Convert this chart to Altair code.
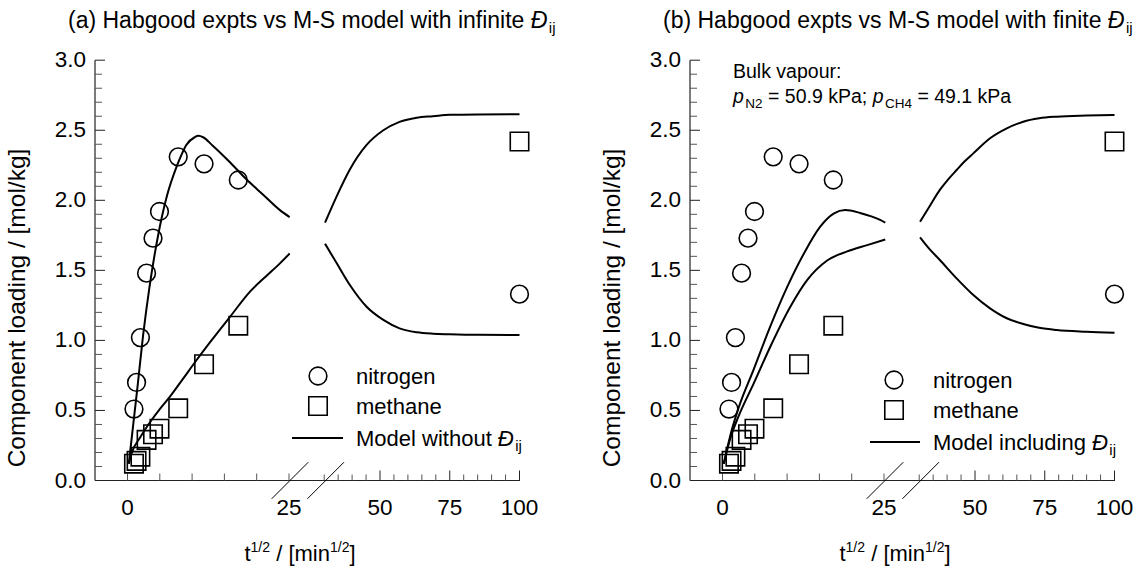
import altair as alt
import pandas as pd

FONT = "Liberation Sans"

# ---- Habgood experiments: x = t^(1/2) [min^(1/2)], q = loading [mol/kg] ----
n2_t = [1.0, 1.4, 2.0, 2.95, 3.95, 4.95, 7.85, 11.85, 17.15, 100.0]
n2_q = [0.51, 0.70, 1.02, 1.48, 1.73, 1.92, 2.31, 2.26, 2.145, 1.33]
ch4_t = [1.0, 1.4, 2.0, 2.95, 3.95, 4.95, 7.85, 11.85, 17.15, 100.0]
ch4_q = [0.12, 0.14, 0.17, 0.29, 0.33, 0.37, 0.515, 0.83, 1.105, 2.42]

# ---- M-S model, infinite D_ij (panel a) ----
a_n2_t1 = [0.2, 1.6, 2.4, 3.4, 4.7, 6.1, 7.6, 8.4, 9.1, 10.4, 11.0, 11.7, 13.2, 15.9, 18.4, 21.0, 23.6, 25.1]
a_n2_q1 = [0.12, 0.69, 1.03, 1.38, 1.74, 2.03, 2.24, 2.33, 2.395, 2.45, 2.46, 2.45, 2.39, 2.27, 2.15, 2.04, 1.93, 1.88]
a_ch4_t1 = [0.2, 0.6, 2.0, 3.7, 5.0, 6.6, 8.5, 10.7, 13.0, 15.9, 19.0, 21.5, 23.6, 25.1]
a_ch4_q1 = [0.12, 0.19, 0.31, 0.43, 0.51, 0.60, 0.72, 0.86, 1.00, 1.17, 1.35, 1.46, 1.55, 1.62]
a_t2 = [30.3, 34.5, 39.2, 45.2, 51.2, 57.0, 63.2, 69.0, 75.0, 85.0, 100.0]
a_ch4_q2 = [1.84, 2.03, 2.22, 2.395, 2.50, 2.56, 2.59, 2.60, 2.61, 2.613, 2.614]
a_n2_q2 = [1.69, 1.55, 1.395, 1.24, 1.146, 1.086, 1.058, 1.048, 1.044, 1.04, 1.039]

# ---- M-S model, finite D_ij (panel b) ----
b_n2_t1 = [0.2, 1.2, 2.5, 4.8, 7.4, 10.0, 12.6, 15.1, 17.2, 19.0, 21.3, 24.4, 25.2]
b_n2_q1 = [0.12, 0.32, 0.52, 0.79, 1.10, 1.38, 1.62, 1.81, 1.905, 1.93, 1.91, 1.86, 1.84]
b_ch4_t1 = [0.2, 1.2, 2.5, 4.8, 7.4, 10.5, 13.1, 16.2, 19.3, 22.4, 25.2]
b_ch4_q1 = [0.12, 0.30, 0.46, 0.69, 0.955, 1.24, 1.43, 1.57, 1.635, 1.68, 1.72]
b_ch4_t2 = [30.3, 33.8, 37.4, 40.4, 43.4, 46.4, 49.4, 55.4, 61.4, 67.3, 73.0, 79.3, 90.0, 100.0]
b_ch4_q2 = [1.847, 1.96, 2.074, 2.15, 2.216, 2.28, 2.335, 2.443, 2.514, 2.561, 2.585, 2.597, 2.605, 2.609]
b_n2_t2 = [30.3, 33.8, 37.4, 43.4, 49.4, 55.4, 61.4, 67.3, 73.0, 79.3, 90.0, 100.0]
b_n2_q2 = [1.736, 1.65, 1.574, 1.443, 1.324, 1.229, 1.158, 1.117, 1.09, 1.074, 1.062, 1.055]

# ---- axis ticks and labels ----
y_labels = [0.0, 0.5, 1.0, 1.5, 2.0, 2.5, 3.0]
y_minor = [i / 10 for i in range(31) if i % 5]
x_early_ticks = [0, 5, 10, 15, 20, 25]
x_early_labels = [0, 25]
x_late_minor = [30, 35, 40, 45, 55, 60, 65, 70, 80, 85, 90, 95]
x_late_labels = [50, 75, 100]

# Helvetica/Arial advance widths (1/1000 em) used to place rich-text runs
ADV = {" ": 278, "(": 333, ")": 333, "-": 333, "/": 278, "[": 278, "]": 278, ".": 278,
       ";": 278, ":": 278, "=": 584, "Đ": 722}
for ch in "abdeghnopqu": ADV[ch] = 556
for ch in "ckvsxyz": ADV[ch] = 500
for ch in "ijl": ADV[ch] = 222
for ch in "ft": ADV[ch] = 278
ADV.update({"r": 333, "m": 833, "w": 722, "H": 722, "M": 833, "S": 667, "C": 722,
            "N": 722, "P": 667, "B": 667})
for ch in "0123456789": ADV[ch] = 556


def text_w(s, size):
    return sum(ADV.get(c, 556) for c in s) * size / 1000.0


ONE = pd.DataFrame({"v": [0]})


def rich(parts, x, y, center=False):
    """parts: (text, size, italic, baseline shift). Returns text layers."""
    total = sum(text_w(p[0], p[1]) + (1.5 if p[2] else 0) for p in parts)
    cur = x - total / 2 if center else x
    out = []
    for text, size, italic, shift in parts:
        body = text.strip(" ")
        lead = len(text) - len(text.lstrip(" "))
        start = cur + text_w(" " * lead, size)
        out.append(
            alt.Chart(ONE).mark_text(
                text=body, font=FONT, fontSize=size, color="black",
                fontStyle="italic" if italic else "normal",
                align="left", baseline="alphabetic",
            ).encode(x=alt.value(start), y=alt.value(y + shift))
        )
        cur += text_w(text, size) + (1.5 if italic else 0)
    return out


Y_SCALE = alt.Scale(domain=[0, 3], range=[480.5, 60.2], nice=False, zero=False)
Y_BASE = 480.5


def seg_scale(seg, x0):
    if seg == "early":
        return alt.Scale(domain=[0, 25], range=[x0 + 32.5, x0 + 194], nice=False, zero=False)
    return alt.Scale(domain=[50, 100], range=[x0 + 285, x0 + 424.5], nice=False, zero=False)


def enc(seg, x0, xf="t", yf="q"):
    return dict(
        x=alt.X(f"{xf}:Q", scale=seg_scale(seg, x0), axis=None),
        y=alt.Y(f"{yf}:Q", scale=Y_SCALE, axis=None),
    )


def curve(ts, qs, seg, x0):
    df = pd.DataFrame({"t": ts, "q": qs})
    return alt.Chart(df).mark_line(
        color="black", strokeWidth=2, interpolate="monotone"
    ).encode(**enc(seg, x0), order="t:Q")


def markers(ts, qs, shape, size, x0):
    out = []
    df = pd.DataFrame({"t": ts, "q": qs})
    for seg, sub in (("early", df[df.t <= 25]), ("late", df[df.t >= 50])):
        out.append(
            alt.Chart(sub).mark_point(
                shape=shape, size=size, filled=False, stroke="black",
                strokeWidth=1.6, opacity=1,
            ).encode(**enc(seg, x0))
        )
    return out


def axes(x0, title_x):
    L = []
    rule_c = "#222"
    # axis lines
    L.append(alt.Chart(ONE).mark_rule(color=rule_c, strokeWidth=1.2).encode(
        x=alt.value(x0), x2=alt.value(x0 + 425), y=alt.value(Y_BASE)))
    L.append(alt.Chart(ONE).mark_rule(color=rule_c, strokeWidth=1.2).encode(
        x=alt.value(x0), y=alt.value(60.2), y2=alt.value(Y_BASE)))
    # y ticks (inward)
    ymaj = pd.DataFrame({"q": y_labels, "lab": [f"{v:.1f}" for v in y_labels]})
    ymin = pd.DataFrame({"q": y_minor})
    L.append(alt.Chart(ymaj).mark_rule(color=rule_c, strokeWidth=1).encode(
        y=alt.Y("q:Q", scale=Y_SCALE, axis=None), x=alt.value(x0), x2=alt.value(x0 + 10)))
    L.append(alt.Chart(ymin).mark_rule(color="#555", strokeWidth=1).encode(
        y=alt.Y("q:Q", scale=Y_SCALE, axis=None), x=alt.value(x0), x2=alt.value(x0 + 7)))
    L.append(alt.Chart(ymaj).mark_text(font=FONT, fontSize=22.5, align="right",
                                       baseline="middle", color="black").encode(
        y=alt.Y("q:Q", scale=Y_SCALE, axis=None), x=alt.value(x0 - 9), text="lab:N"))
    # x ticks, early segment
    xe = pd.DataFrame({"t": x_early_ticks})
    L.append(alt.Chart(xe).mark_rule(color="#555", strokeWidth=1).encode(
        x=alt.X("t:Q", scale=seg_scale("early", x0), axis=None),
        y=alt.value(Y_BASE), y2=alt.value(Y_BASE - 7)))
    xel = pd.DataFrame({"t": x_early_labels, "lab": [str(v) for v in x_early_labels]})
    L.append(alt.Chart(xel).mark_text(font=FONT, fontSize=22.5, align="center",
                                      baseline="middle", color="black").encode(
        x=alt.X("t:Q", scale=seg_scale("early", x0), axis=None),
        y=alt.value(508), text="lab:N"))
    # x ticks, late segment
    xlm = pd.DataFrame({"t": x_late_minor})
    L.append(alt.Chart(xlm).mark_rule(color="#555", strokeWidth=1).encode(
        x=alt.X("t:Q", scale=seg_scale("late", x0), axis=None),
        y=alt.value(Y_BASE), y2=alt.value(Y_BASE - 6)))
    xll = pd.DataFrame({"t": x_late_labels, "lab": [str(v) for v in x_late_labels]})
    L.append(alt.Chart(xll).mark_rule(color=rule_c, strokeWidth=1).encode(
        x=alt.X("t:Q", scale=seg_scale("late", x0), axis=None),
        y=alt.value(Y_BASE), y2=alt.value(Y_BASE - 10)))
    L.append(alt.Chart(xll).mark_text(font=FONT, fontSize=22.5, align="center",
                                      baseline="middle", color="black").encode(
        x=alt.X("t:Q", scale=seg_scale("late", x0), axis=None),
        y=alt.value(508), text="lab:N"))
    # axis break marks
    for cx in (x0 + 195, x0 + 230.7):
        L.append(alt.Chart(ONE).mark_rule(color="black", strokeWidth=1).encode(
            x=alt.value(cx - 18.3), y=alt.value(Y_BASE + 18.3),
            x2=alt.value(cx + 18.3), y2=alt.value(Y_BASE - 18.3)))
    # axis titles
    L.append(alt.Chart(ONE).mark_text(
        text="Component loading / [mol/kg]", font=FONT, fontSize=24.5, angle=270,
        align="center", baseline="middle", color="black").encode(
        x=alt.value(title_x), y=alt.value(308)))
    L += rich([("t", 22, False, 0), ("1/2", 14, False, -9), (" / [min", 22, False, 0),
               ("1/2", 14, False, -9), ("]", 22, False, 0)], x0 + 205, 561, center=True)
    return L


def legend(sym_x, line_x1, line_x2, text_x, ys, model_word):
    L = []
    L.append(alt.Chart(ONE).mark_point(shape="circle", size=314, filled=False, stroke="black",
                                       strokeWidth=1.6, opacity=1).encode(
        x=alt.value(sym_x), y=alt.value(ys[0])))
    L.append(alt.Chart(ONE).mark_point(shape="square", size=340, filled=False, stroke="black",
                                       strokeWidth=1.6, opacity=1).encode(
        x=alt.value(sym_x), y=alt.value(ys[1])))
    L.append(alt.Chart(ONE).mark_rule(color="black", strokeWidth=2).encode(
        x=alt.value(line_x1), x2=alt.value(line_x2), y=alt.value(ys[2])))
    L += rich([("nitrogen", 22, False, 0)], text_x, ys[0] + 8)
    L += rich([("methane", 22, False, 0)], text_x, ys[1] + 8)
    L += rich([(f"Model {model_word} ", 22, False, 0), ("Đ", 22, True, 0),
               ("ij", 15, False, 5)], text_x, ys[2] + 8)
    return L


def panel(x0, tag, mode, curves, title_x):
    L = axes(x0, x0 - 77)
    for ts, qs, seg in curves:
        L.append(curve(ts, qs, seg, x0))
    L += markers(n2_t, n2_q, "circle", 314, x0)
    L += markers(ch4_t, ch4_q, "square", 340, x0)
    L += rich([(f"({tag}) Habgood expts vs M-S model with {mode} ", 23, False, 0),
               ("Đ", 23, True, 0), ("ij", 15, False, 5)], title_x, 28)
    return L


XA, XB = 95, 690

layers = []
layers += panel(XA, "a", "infinite", [
    (a_n2_t1, a_n2_q1, "early"), (a_ch4_t1, a_ch4_q1, "early"),
    (a_t2, a_ch4_q2, "late"), (a_t2, a_n2_q2, "late")], XA - 27)
layers += legend(XA + 223, XA + 197, XA + 248, XA + 261, [376, 406, 438], "without")

layers += panel(XB, "b", "finite", [
    (b_n2_t1, b_n2_q1, "early"), (b_ch4_t1, b_ch4_q1, "early"),
    (b_ch4_t2, b_ch4_q2, "late"), (b_n2_t2, b_n2_q2, "late")], XB - 27)
layers += legend(XB + 204, XB + 180, XB + 230, XB + 243, [380, 410, 442], "including")

layers += rich([("Bulk vapour:", 19.5, False, 0)], XB + 43, 78)
layers += rich([("p", 19.5, True, 0), ("N2", 13.5, False, 5), (" = 50.9 kPa; ", 19.5, False, 0),
                ("p", 19.5, True, 0), ("CH4", 13.5, False, 5), (" = 49.1 kPa", 19.5, False, 0)],
               XB + 43, 103)

chart = alt.layer(*layers).resolve_scale(x="independent").properties(
    width=1140, height=571, autosize=alt.AutoSizeParams(type="none"), padding=0,
    background="white",
).configure_view(stroke=None)

chart.save("out.html", embed_options={"renderer": "svg", "actions": False})
